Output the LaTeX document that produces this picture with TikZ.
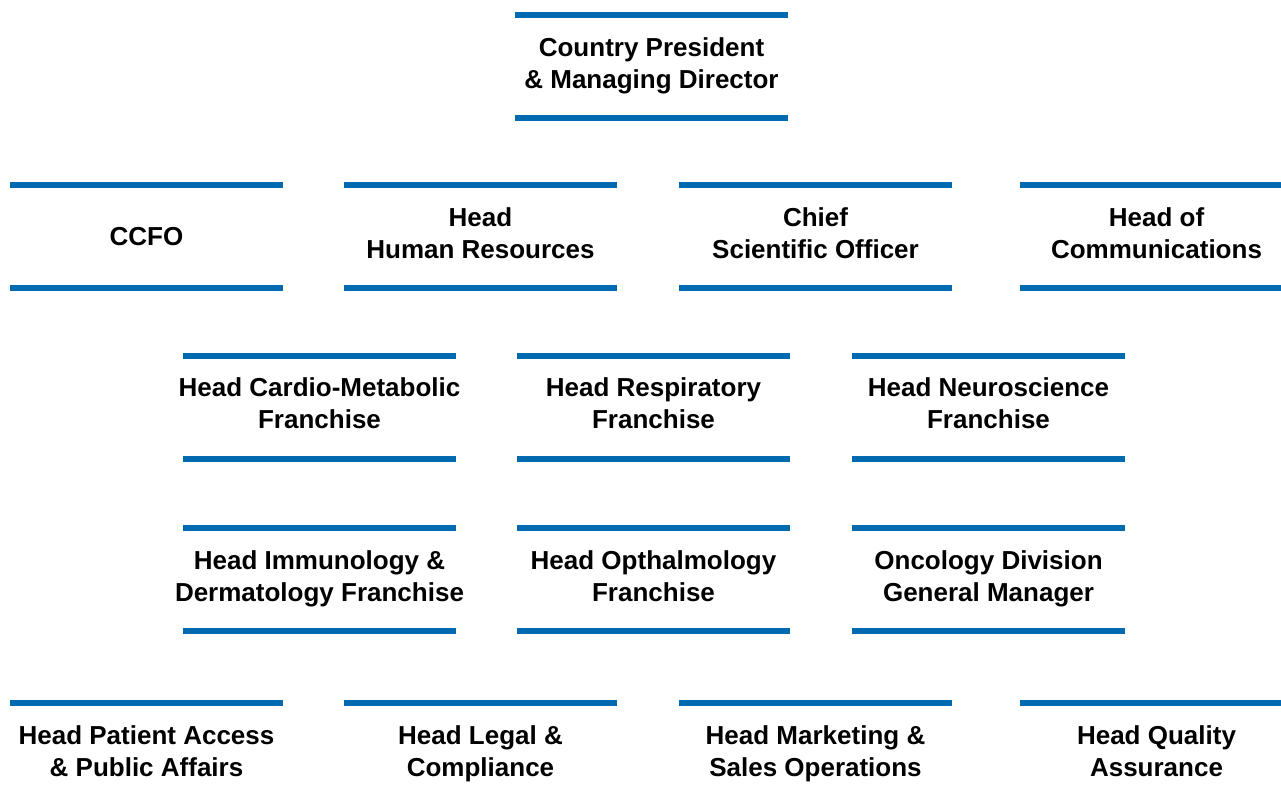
\documentclass[tikz,border=0pt]{standalone}
\usepackage{fontspec}
\setmainfont{Liberation Sans}
\usepackage{tikz}
\definecolor{chartblue}{RGB}{0,106,176}
\tikzset{
	post/.style={
		inner sep = 0pt,
		align = center,
		font = \fontsize{26}{32}\selectfont\bfseries,
		execute at begin node = \rule{0pt}{24.9pt},
		execute at end node = \rule[-7.1pt]{0pt}{7.1pt}
	},
	rule/.style={
		line width = 6pt,
		draw = chartblue
	},
}

\begin{document}
\begin{tikzpicture}[x=1pt, y=-1pt]
    \useasboundingbox (0,0) rectangle (1281,801);
    \clip (0,0) rectangle (1281,801);
    \node[post] (pres) at (651.5,66.5) {Country President\\\& Managing Director};
    % second row
    \node[post] (ccfo) at (146.5,236.5) {CCFO};
    \node[post] (hr) at (480.5,236.5) {Head\\Human Resources};
    \node[post] (cso) at (815.5,236.5) {Chief\\Scientific Officer};
    \node[post] (comms) at (1156.5,236.5) {Head of\\Communications};
    % franchises
    \node[post] (cardio) at (319.5,407) {Head Cardio-Metabolic\\Franchise};
    \node[post] (resp) at (653.5,407) {Head Respiratory\\Franchise};
    \node[post] (neuro) at (988.5,407) {Head Neuroscience\\Franchise};
    \node[post] (immuno) at (319.5,579.5) {Head Immunology \&\\Dermatology Franchise};
    \node[post] (optha) at (653.5,579.5) {Head Opthalmology\\Franchise};
    \node[post] (onco) at (988.5,579.5) {Oncology Division\\General Manager};
    % bottom row
    \node[post] (access) at (146.5,754.5) {Head Patient Access\\\& Public Affairs};
    \node[post] (legal) at (480.5,754.5) {Head Legal \&\\Compliance};
    \node[post] (mktg) at (815.5,754.5) {Head Marketing \&\\Sales Operations};
    \node[post] (quality) at (1156.5,754.5) {Head Quality\\Assurance};
    \foreach \n in {pres, ccfo, hr, cso, comms, cardio, resp, neuro,
                    immuno, optha, onco, access, legal, mktg, quality}{
      \draw[rule] ([xshift=-136.5pt, yshift=51.5pt]\n.center) -- ++(273,0);
      \draw[rule] ([xshift=-136.5pt, yshift=-51.5pt]\n.center) -- ++(273,0);
    }
\end{tikzpicture}
\end{document}
